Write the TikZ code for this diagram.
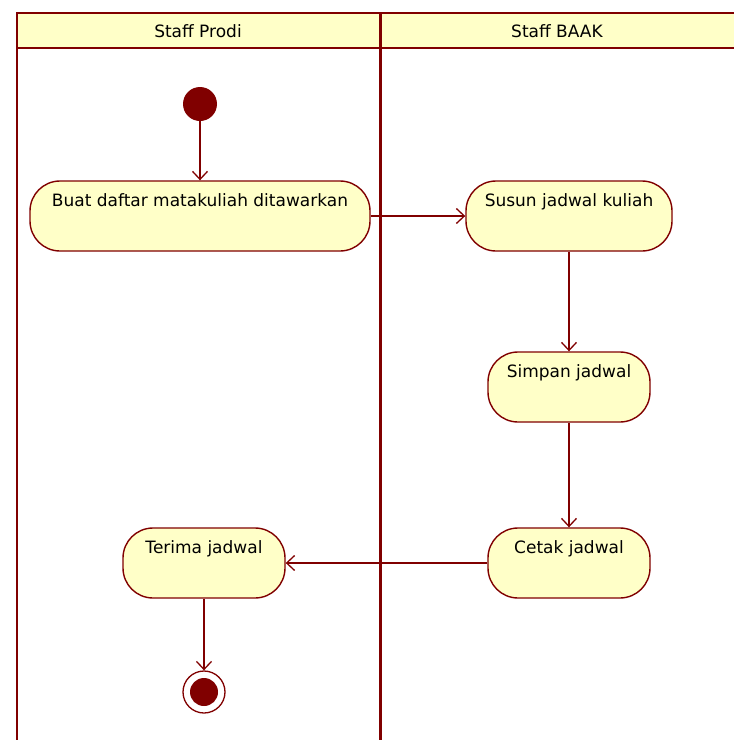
\documentclass[tikz,border=0pt]{standalone}
\usepackage{fontspec}
\setmainfont{DejaVu Sans}
\usetikzlibrary{arrows.meta}
\definecolor{umlred}{RGB}{128,0,0}
\definecolor{umlfill}{RGB}{255,255,200}
\tikzset{
  lanefont/.style={font=\fontsize{17}{19}\selectfont},
  action/.style={draw=umlred, fill=umlfill, line width=1.4pt, rounded corners=30pt,
    minimum height=70pt, text height=13pt, text depth=33pt, lanefont},
  startnode/.style={circle, fill=umlred, minimum size=34pt, inner sep=0pt},
  flow/.style={draw=umlred, line width=1.3pt, -{Straight Barb[length=8pt,width=15pt]}},
}
\begin{document}
\begin{tikzpicture}[x=1pt,y=-1pt]
\useasboundingbox (0,0) rectangle (734,740);
% swimlanes
\fill[umlfill] (17,13) rectangle (734,48);
\draw[umlred, line width=2.2pt] (734,13) -- (17,13) -- (17,740);
\draw[umlred, line width=2.2pt] (17,48) -- (734,48);
\draw[umlred, line width=3pt] (380,13) -- (380,740);
\node[lanefont] (prodi) at (198,31) {Staff Prodi};
\node[lanefont] (baak) at (557,31) {Staff BAAK};
% activities
\node[startnode] (start) at (200,104) {};
\node[action, minimum width=340pt] (buat) at (200,216) {Buat daftar matakuliah ditawarkan};
\node[action, minimum width=206pt] (susun) at (569,216) {Susun jadwal kuliah};
\node[action, minimum width=162pt] (simpan) at (569,387) {Simpan jadwal};
\node[action, minimum width=162pt] (cetak) at (569,563) {Cetak jadwal};
\node[action, minimum width=162pt] (terima) at (204,563) {Terima jadwal};
\node[circle, draw=umlred, line width=1.3pt, fill=white, minimum size=42pt, inner sep=0pt] (end) at (204,692) {};
\node[circle, fill=umlred, minimum size=28pt, inner sep=0pt] (endin) at (end) {};
% flows
\draw[flow] (start) -- (buat);
\draw[flow] (buat) -- (susun);
\draw[flow] (susun) -- (simpan);
\draw[flow] (simpan) -- (cetak);
\draw[flow] (cetak) -- (terima);
\draw[flow] (terima) -- (end);
\end{tikzpicture}
\end{document}
